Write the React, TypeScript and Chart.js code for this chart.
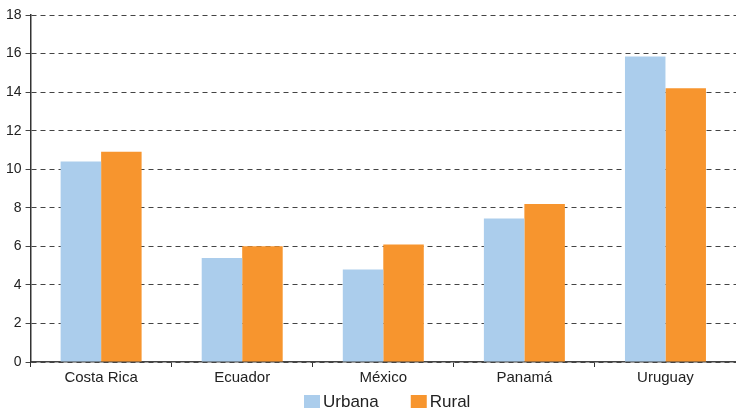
import { useEffect, useRef } from 'react'
import { Chart, ChartConfiguration, Plugin, registerables } from 'chart.js'

Chart.register(...registerables)

const countries = ['Costa Rica', 'Ecuador', 'México', 'Panamá', 'Uruguay']
const urbana = [10.4, 5.4, 4.8, 7.45, 15.85]
const rural = [10.9, 6.0, 6.1, 8.2, 14.2]
const seriesNames = ['Urbana', 'Rural']
const seriesColors = ['#abcdec', '#f7952e']

const FONT = 'Liberation Sans, Arial, sans-serif'

// leyenda dibujada a mano para controlar el espaciado
const bottomLegend: Plugin = {
  id: 'bottomLegend',
  afterDraw(chart) {
    const { ctx } = chart
    const y = 401
    let x = 304
    ctx.save()
    ctx.font = `17px ${FONT}`
    ctx.textBaseline = 'middle'
    ctx.textAlign = 'left'
    chart.data.datasets.forEach((ds) => {
      ctx.fillStyle = ds.backgroundColor as string
      ctx.fillRect(x, y - 6, 16, 13)
      ctx.fillStyle = '#222'
      ctx.fillText(ds.label || '', x + 19, y + 1)
      x += 19 + ctx.measureText(ds.label || '').width + 32
    })
    ctx.restore()
  },
}

export default function App() {
  const canvasRef = useRef<HTMLCanvasElement>(null)
  const chartRef = useRef<Chart | null>(null)

  useEffect(() => {
    if (!canvasRef.current) return
    const ctx = canvasRef.current.getContext('2d')
    if (!ctx) return
    if (chartRef.current) chartRef.current.destroy()

    const config: ChartConfiguration = {
      type: 'bar',
      data: {
        labels: countries,
        datasets: [urbana, rural].map((values, i) => ({
          label: seriesNames[i],
          data: values,
          backgroundColor: seriesColors[i],
          borderWidth: 0,
          categoryPercentage: 0.574,
          barPercentage: 1,
        })),
      },
      options: {
        responsive: true,
        maintainAspectRatio: false,
        animation: false,
        layout: { padding: { top: 15, right: 0, left: 2, bottom: 20 } },
        plugins: {
          legend: { display: false },
          tooltip: { enabled: false },
        },
        scales: {
          x: {
            grid: {
              display: true,
              drawOnChartArea: false,
              drawTicks: true,
              tickLength: 5,
              offset: true,
              color: '#333',
            },
            border: { color: '#444', width: 1.5 },
            ticks: {
              color: '#222',
              padding: 2,
              font: { family: FONT, size: 15 },
            },
          },
          y: {
            min: 0,
            max: 18,
            grid: {
              color: '#444',
              tickLength: 5,
            },
            border: { color: '#333', width: 1.5, dash: [5, 4] },
            ticks: {
              stepSize: 2,
              color: '#222',
              padding: 4,
              font: { family: FONT, size: 14 },
            },
          },
        },
      },
      plugins: [bottomLegend],
    }

    chartRef.current = new Chart(ctx, config)
    return () => {
      chartRef.current?.destroy()
    }
  }, [])

  return (
    <div style={{ position: 'fixed', left: 0, top: 0, width: 736, height: 409, background: '#fff' }}>
      <canvas ref={canvasRef} />
    </div>
  )
}
